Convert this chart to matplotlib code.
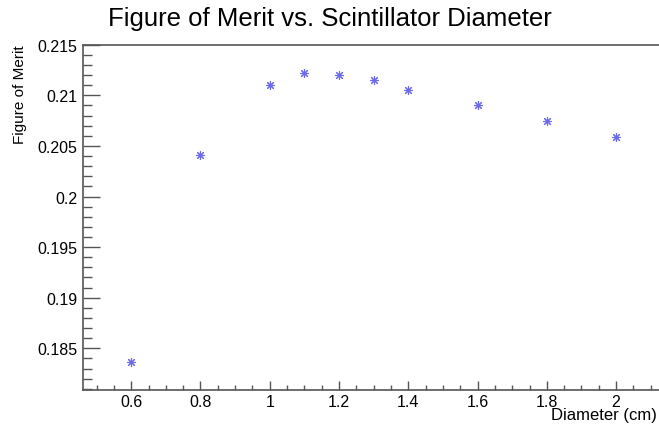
import matplotlib
matplotlib.use("Agg")
import matplotlib.pyplot as plt
from matplotlib.ticker import MultipleLocator

# figure of merit vs scintillator diameter
diameter = [0.6, 0.8, 1.0, 1.1, 1.2, 1.3, 1.4, 1.6, 1.8, 2.0]
merit = [0.18367, 0.20411, 0.21104, 0.21217, 0.21203, 0.2115, 0.21054,
         0.20906, 0.20742, 0.20583]

plt.rcParams['font.family'] = ['Liberation Sans', 'DejaVu Sans']

fig = plt.figure(figsize=(6.59, 4.27), dpi=100)
ax = fig.add_axes([0.1255, 0.085, 0.8830, 0.808])

ax.plot(diameter, merit, linestyle='none', marker=(8, 2, 0), markersize=6.5,
        markeredgewidth=0.8, color='#6b6be8')

ax.set_xlim(0.46, 2.14)
ax.set_ylim(0.18091, 0.2150)

ax.xaxis.set_major_locator(MultipleLocator(0.2))
ax.xaxis.set_minor_locator(MultipleLocator(0.05))
ax.yaxis.set_major_locator(MultipleLocator(0.005))
ax.yaxis.set_minor_locator(MultipleLocator(0.001))
ax.xaxis.set_major_formatter(matplotlib.ticker.FuncFormatter(lambda v, p: ('%g' % round(v, 3))))
ax.yaxis.set_major_formatter(matplotlib.ticker.FuncFormatter(lambda v, p: ('%g' % round(v, 4))))

for s in ax.spines.values():
    s.set_color('#555555')
    s.set_linewidth(1.2)

ax.tick_params(axis='y', which='major', direction='in', length=12, width=1,
               color='#555555', labelsize=11.5, pad=4, right=False)
ax.tick_params(axis='y', which='minor', direction='in', length=6.5, width=1,
               color='#555555', right=False)
ax.tick_params(axis='x', which='major', direction='in', length=6.5, width=1,
               color='#555555', labelsize=11.5, pad=3, top=False)
ax.tick_params(axis='x', which='minor', direction='in', length=3.5, width=1,
               color='#555555', top=False)

ax.set_ylabel('Figure of Merit', fontsize=11, loc='top')
ax.yaxis.set_label_coords(-0.095, 1.0)
ax.set_xlabel('Diameter (cm)', fontsize=12)
ax.xaxis.set_label_coords((657 - 82.7) / 582.0, -0.073)
ax.xaxis.label.set_horizontalalignment('right')
ax.xaxis.label.set_verticalalignment('center')

fig.text(0.50, 0.956, 'Figure of Merit vs. Scintillator Diameter',
         ha='center', va='center', fontsize=18.5)

fig.savefig('out.png', dpi=100)
